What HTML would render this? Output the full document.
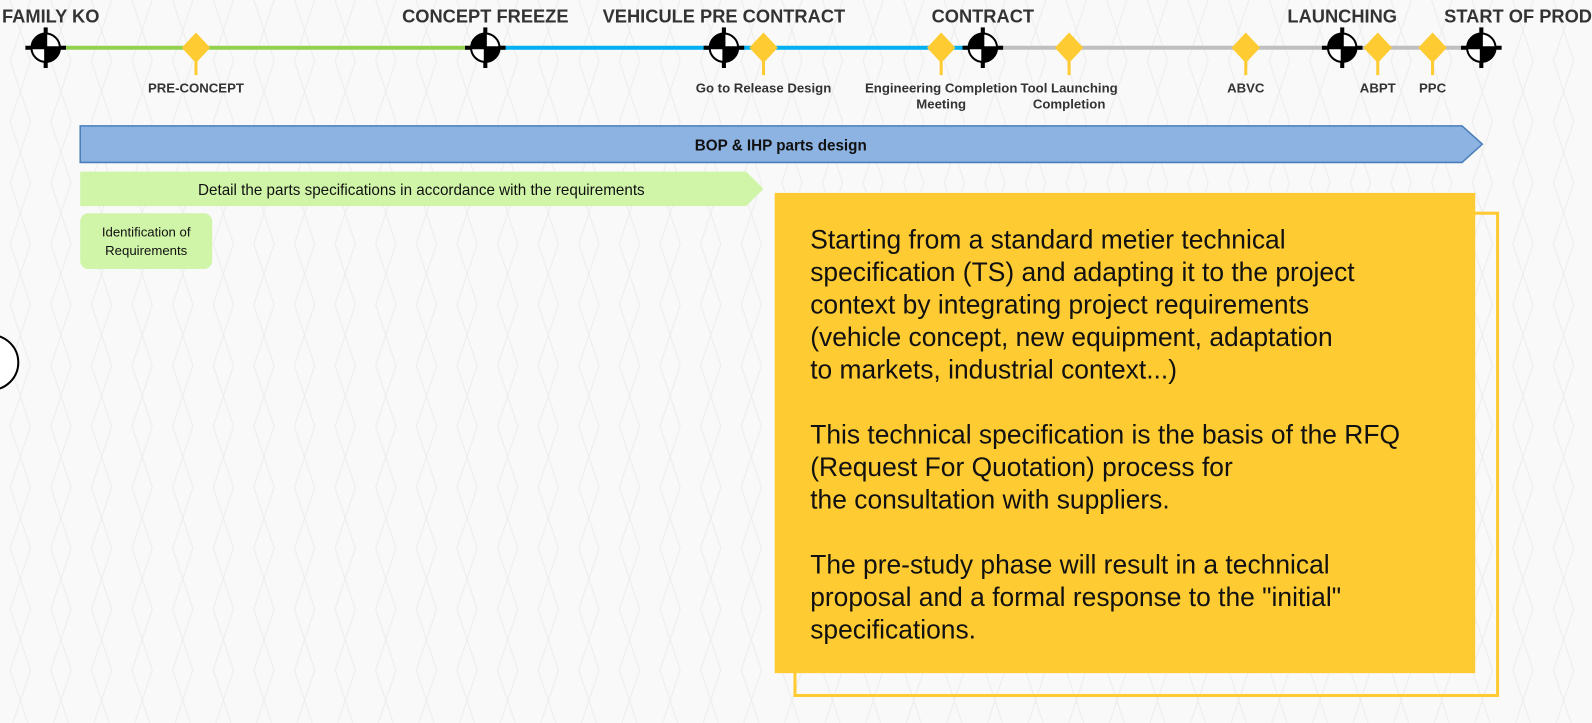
<!DOCTYPE html>
<html><head><meta charset="utf-8">
<style>
html,body{margin:0;padding:0;}
body{width:1592px;height:712px;overflow:hidden;background:#f9f9f9;position:relative;font-family:"Liberation Sans",sans-serif;}
#wrap{position:absolute;left:0;top:0;width:1592px;height:712px;transform:scale(1.0153);transform-origin:0 0;}
.box{position:absolute;}
#note p{margin:0 0 32px 0;}
</style></head>
<body>
<div id="wrap">
<svg id="tl" width="1592" height="712" style="position:absolute;left:0;top:0">
  <defs>
    <pattern id="bg" width="40" height="60" patternUnits="userSpaceOnUse">
      <path d="M10 0 L20 30 L10 60 M30 0 L20 30 L30 60" stroke="#ececec" stroke-width="1" fill="none"/>
    </pattern>
  </defs>
  <rect width="1592" height="712" fill="url(#bg)"/>
  <g id="lines"></g>
  <g id="marks"></g>
  <polygon points="79,124 1440,124 1460,142 1440,160 79,160" fill="#8db3e2" stroke="#4a7ebb" stroke-width="1.5"/>
  <text x="769" y="148" text-anchor="middle" font-size="15" font-weight="bold" fill="#111">BOP &amp; IHP parts design</text>
  <polygon points="79,169 735,169 752,186 735,203 79,203" fill="#d0f5a8"/>
  <text x="415" y="192" text-anchor="middle" font-size="15" fill="#111">Detail the parts specifications in accordance with the requirements</text>
  <rect x="79" y="210" width="130" height="55" rx="8" fill="#d0f5a8"/>
  <text x="144" y="233" text-anchor="middle" font-size="13" fill="#111">Identification of</text>
  <text x="144" y="251" text-anchor="middle" font-size="13" fill="#111">Requirements</text>
  <circle cx="-9" cy="357" r="27" fill="#fff" stroke="#000" stroke-width="2"/>
  <rect x="783" y="210" width="692" height="475" fill="none" stroke="#fecb33" stroke-width="3"/>
  <rect x="763" y="190" width="690" height="473" fill="#fecb33"/>
</svg>
<div id="note" class="box" style="left:798px;top:220px;width:650px;font-size:26px;line-height:32px;color:#111;">
<p>Starting from a standard metier technical<br>specification (TS) and adapting it to the project<br>context by integrating project requirements<br>(vehicle concept, new equipment, adaptation<br>to markets, industrial context...)</p>
<p>This technical specification is the basis of the RFQ<br>(Request For Quotation) process for<br>the consultation with suppliers.</p>
<p>The pre-study phase will result in a technical<br>proposal and a formal response to the "initial"<br>specifications.</p>
</div>
</div>
<script>
const gateNames=["FAMILY KO","CONCEPT FREEZE","VEHICULE PRE CONTRACT","CONTRACT","LAUNCHING","START OF PROD"];
const gateX=[45,478,713,968,1322,1459];
const diamondNames=[["PRE-CONCEPT"],["Go to Release Design"],["Engineering Completion","Meeting"],["Tool Launching","Completion"],["ABVC"],["ABPT"],["PPC"]];
const diamondX=[193,752,927,1053,1227,1357,1411];
const phaseColors=["#92d050","#00b0f0","#00b0f0","#bfbfbf","#bfbfbf"];
const NS="http://www.w3.org/2000/svg";
const LY=47;
const lines=document.getElementById('lines'), marks=document.getElementById('marks');
function mk(tag,attrs,parent){const e=document.createElementNS(NS,tag);for(const k in attrs)e.setAttribute(k,attrs[k]);parent.appendChild(e);return e;}
for(let i=0;i<gateX.length-1;i++){
  const l=mk('line',{x1:gateX[i],y1:LY,x2:gateX[i+1],y2:LY,stroke:phaseColors[i],'stroke-width':4},lines);
  
  
}
diamondX.forEach((x,i)=>{
  const g=mk('g',{},marks);
  
  
  mk('line',{x1:x,y1:LY,x2:x,y2:LY+27,stroke:'#fecb33','stroke-width':3},g);
  mk('polygon',{points:`${x},${LY-15} ${x+14},${LY} ${x},${LY+15} ${x-14},${LY}`,fill:'#fecb33'},g);
  diamondNames[i].forEach((t,j)=>{
    const tx=mk('text',{x:x,y:LY+44+j*16,'text-anchor':'middle','font-size':13,'font-weight':'bold',fill:'#333'},g);
    tx.textContent=t;
    
    
  });
});
gateX.forEach((x,i)=>{
  const g=mk('g',{},marks);
  
  
  mk('line',{x1:x-20,y1:LY,x2:x+20,y2:LY,stroke:'#000','stroke-width':4},g);
  mk('line',{x1:x,y1:LY-20,x2:x,y2:LY+20,stroke:'#000','stroke-width':4},g);
  mk('circle',{cx:x,cy:LY,r:14,fill:'#fff',stroke:'#000','stroke-width':2},g);
  mk('path',{d:`M${x} ${LY} L${x} ${LY-14} A14 14 0 0 0 ${x-14} ${LY} Z`,fill:'#000'},g);
  mk('path',{d:`M${x} ${LY} L${x} ${LY+14} A14 14 0 0 0 ${x+14} ${LY} Z`,fill:'#000'},g);
  mk('line',{x1:x-14,y1:LY,x2:x+14,y2:LY,stroke:'#000','stroke-width':3},g);
  mk('line',{x1:x,y1:LY-14,x2:x,y2:LY+14,stroke:'#000','stroke-width':3},g);
  let anchor='middle',tx0=x;
  if(i===0){anchor='start';tx0=2;}
  if(i===gateX.length-1){anchor='end';tx0=1568;}
  const t=mk('text',{x:tx0,y:22,'text-anchor':anchor,'font-size':18,'font-weight':'bold',fill:'#333'},g);
  t.textContent=gateNames[i];
  
  
});
</script>
</body></html>
